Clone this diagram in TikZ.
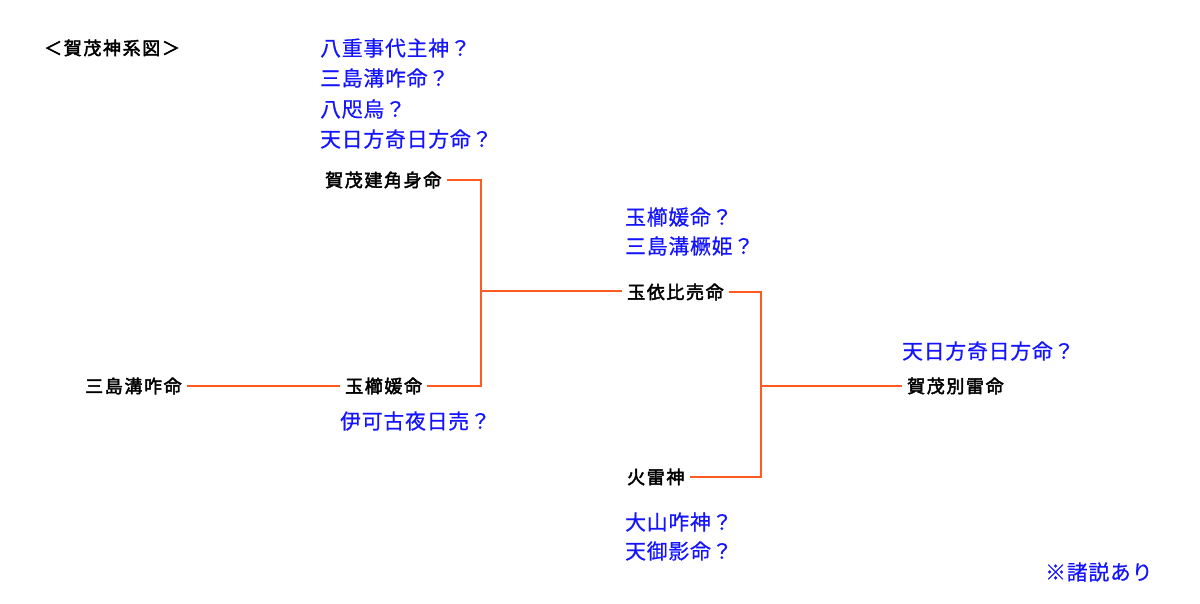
\documentclass[tikz,border=0pt]{standalone}
\usepackage{fontspec}
\usetikzlibrary{positioning}
\newfontfamily\jpbold{Noto Sans CJK JP}[FakeBold=2.5, LetterSpace=9]
\newfontfamily\jpreg{Noto Sans CJK JP}[FakeBold=0.6, LetterSpace=4]
\definecolor{mLine}{HTML}{FF5A1F}
\definecolor{mBlue}{HTML}{1414FF}

\begin{document}
\begin{tikzpicture}[x=1pt, y=-1pt,
    god/.style={anchor=west, inner ysep=0pt, inner xsep=5pt, font=\jpbold\fontsize{18}{18}\selectfont, text=black},
    note/.style={anchor=west, inner sep=0pt, font=\jpreg\fontsize{20.8}{20.8}\selectfont, text=mBlue},
    kline/.style={draw=mLine, line width=2pt}]
    \useasboundingbox (0,0) rectangle (1200,604);
    % title and alternate names
    \node[god, inner xsep=0pt] (title) at (44,48) {＜賀茂神系図＞};
    \node[note] (n1) at (320,48) {八重事代主神？};
    \node[note] (n2) at (320,78) {三島溝咋命？};
    \node[note] (n3) at (320,109) {八咫烏？};
    \node[note] (n4) at (320,139) {天日方奇日方命？};
    \node[note] (n5) at (625,217) {玉櫛媛命？};
    \node[note] (n6) at (625,246) {三島溝橛姫？};
    \node[note] (n7) at (340,421) {伊可古夜日売？};
    \node[note] (n8) at (902,351) {天日方奇日方命？};
    \node[note] (n9) at (625,522) {大山咋神？};
    \node[note] (n10) at (625,551) {天御影命？};
    \node[note] (memo) at (1045,572) {※諸説あり};
    % gods
    \node[god] (kamotake) at (320,180) {賀茂建角身命};
    \node[god] (mizokui) at (80,386) {三島溝咋命};
    \node[god] (tamakushi) at (340,386) {玉櫛媛命};
    \node[god] (tamayori) at (622,292) {玉依比売命};
    \node[god] (honoikazuchi) at (622,477) {火雷神};
    \node[god] (wakeikazuchi) at (902,386) {賀茂別雷命};
    \coordinate (jleft) at (481,291);
    \coordinate (jright) at (761,386);
    % lines
    \draw[kline] (mizokui.east) -- (tamakushi.west);
    \draw[kline] (kamotake.east) -| (jleft);
    \draw[kline] (tamakushi.east) -| (jleft);
    \draw[kline] (jleft) -- (jleft -| tamayori.west);
    \draw[kline] (tamayori.east) -| (jright);
    \draw[kline] (honoikazuchi.east) -| (jright);
    \draw[kline] (jright) -- (jright -| wakeikazuchi.west);
\end{tikzpicture}
\end{document}
